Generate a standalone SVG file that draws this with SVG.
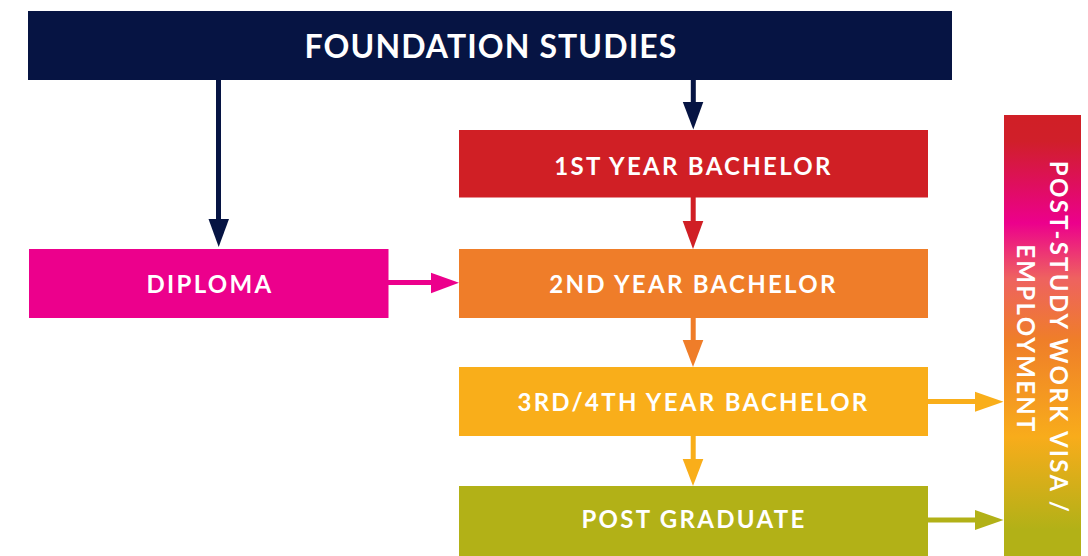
<svg xmlns="http://www.w3.org/2000/svg" width="1088" height="556" viewBox="0 0 1088 556">
<style>
.lbl{font-family:Lato,"Open Sans","Liberation Sans",sans-serif;font-weight:700;fill:#ffffff;text-anchor:middle;font-size:24px;letter-spacing:2.3px}
.big{font-size:32px;letter-spacing:1.1px}
</style>
<defs>
<linearGradient id="grad" x1="0" y1="0" x2="0" y2="1">
<stop offset="0" stop-color="#D01F26"/>
<stop offset="0.06" stop-color="#D01F2A"/>
<stop offset="0.245" stop-color="#EC008C"/>
<stop offset="0.37" stop-color="#EE6260"/>
<stop offset="0.51" stop-color="#EF7E29"/>
<stop offset="0.73" stop-color="#F8AC1B"/>
<stop offset="0.94" stop-color="#B2B117"/>
<stop offset="1" stop-color="#B2B117"/>
</linearGradient>
</defs>
<g id="foundation">
<rect x="28" y="11" width="924" height="69" fill="#061443"/>
<text class="lbl big" x="491" y="58.3">FOUNDATION STUDIES</text>
</g>
<g id="year1">
<rect x="459" y="130" width="469" height="67.5" fill="#D01F25"/>
<text class="lbl" x="693.5" y="175">1ST YEAR BACHELOR</text>
</g>
<g id="diploma">
<rect x="29" y="249" width="359.5" height="69" fill="#EC008C"/>
<text class="lbl" x="210" y="292.5">DIPLOMA</text>
</g>
<g id="year2">
<rect x="459" y="249" width="469" height="69" fill="#EF7D29"/>
<text class="lbl" x="693.5" y="292.5">2ND YEAR BACHELOR</text>
</g>
<g id="year34">
<rect x="459" y="367" width="469" height="69" fill="#F9AE1A"/>
<text class="lbl" x="693.5" y="410.5">3RD/4TH YEAR BACHELOR</text>
</g>
<g id="postgrad">
<rect x="459" y="486" width="469" height="70" fill="#B2B117"/>
<text class="lbl" x="694" y="528.3">POST GRADUATE</text>
</g>
<g id="visa">
<rect x="1004" y="115" width="77" height="441" fill="url(#grad)"/>
<text class="lbl" transform="translate(1049.5,337.5) rotate(90)">POST-STUDY WORK VISA /</text>
<text class="lbl" transform="translate(1017,339) rotate(90)">EMPLOYMENT</text>
</g>
<g id="connectors">
<rect x="216" y="80" width="5" height="140" fill="#061443"/>
<polygon points="208.5,219 229,219 218.7,247" fill="#061443"/>
<rect x="690.8" y="80" width="5" height="23" fill="#061443"/>
<polygon points="682.8,102 703.3,102 693.3,129.5" fill="#061443"/>
<rect x="690.7" y="197" width="5" height="25" fill="#D01F25"/>
<polygon points="682.7,221 703.3,221 693,249" fill="#D01F25"/>
<rect x="388" y="280" width="44" height="5" fill="#EC008C"/>
<polygon points="431,272.7 431,293.3 459,282.8" fill="#EC008C"/>
<rect x="690.7" y="318" width="5" height="23" fill="#EF7D29"/>
<polygon points="682.7,340 703.3,340 693,367" fill="#EF7D29"/>
<rect x="690.7" y="436" width="5" height="24" fill="#F9AE1A"/>
<polygon points="682.7,459 703.3,459 693,486" fill="#F9AE1A"/>
<rect x="928" y="399" width="48" height="5" fill="#F9AE1A"/>
<polygon points="975,391.7 975,411.7 1003.5,401.7" fill="#F9AE1A"/>
<rect x="928" y="517.5" width="48" height="5" fill="#B2B117"/>
<polygon points="975,510 975,530 1003.5,520" fill="#B2B117"/>
</g>
</svg>
